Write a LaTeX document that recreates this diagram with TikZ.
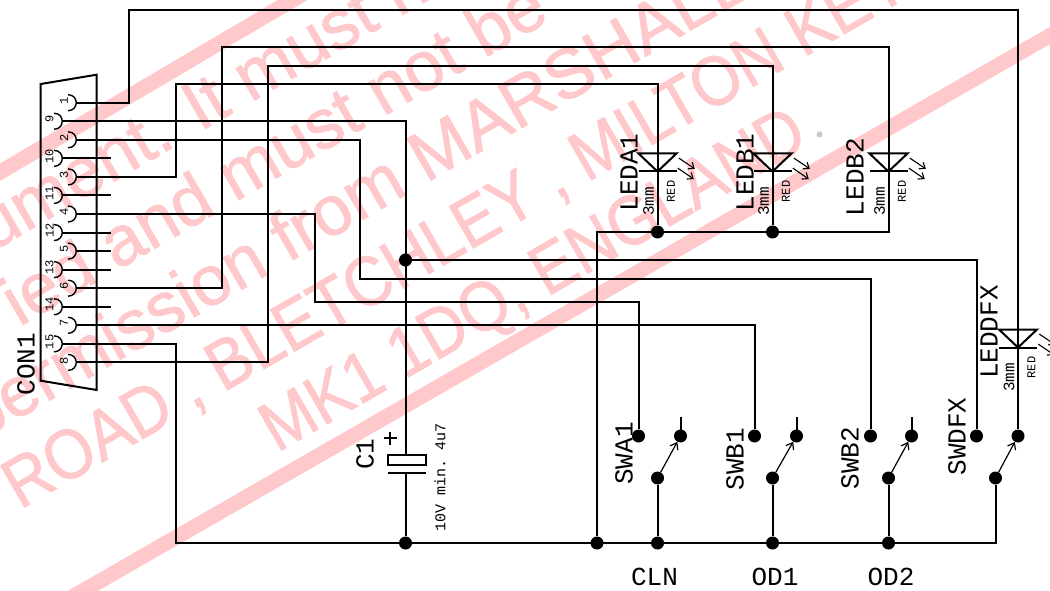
\documentclass[tikz,border=0pt]{standalone}
\usepackage{fontspec}
\setmainfont{Liberation Sans}
\setmonofont{Liberation Mono}
\newfontfamily\stampfont[FakeBold=1.2]{Liberation Sans}
\newfontfamily\stampcaps[FakeStretch=0.9,FakeBold=1.2]{Liberation Sans}
\usetikzlibrary{arrows.meta,positioning}
\definecolor{wmPink}{RGB}{255,200,203}
\definecolor{wmGray}{RGB}{200,200,200}
\tikzset{
    wire/.style={line width=2pt, color=black},
    part/.style={line width=1.4pt, color=black},
    arm/.style={line width=1.2pt, color=black, -{Straight Barb[length=6pt,width=9pt]}},
    glow/.style={line width=1.1pt, color=black, -{Straight Barb[length=5pt,width=8pt]}},
    junction/.style={circle, fill=black, inner sep=0pt, minimum size=13pt},
    tag/.style={font=\ttfamily\fontsize{26}{26}\selectfont, rotate=90, inner sep=0pt},
    title/.style={font=\ttfamily\fontsize{26}{26}\selectfont, inner sep=0pt},
    pinnum/.style={font=\ttfamily\fontsize{12}{12}\selectfont, rotate=90, inner sep=0pt},
    note/.style={font=\ttfamily\fontsize{16}{16}\selectfont, rotate=90, inner sep=0pt},
    colnote/.style={font=\ttfamily\fontsize{12}{12}\selectfont, rotate=90, inner sep=0pt},
    band/.style={line width=15pt, color=wmPink},
    stamp/.style={font=\stampfont\fontsize{70}{70}\selectfont, color=wmPink, rotate=30, anchor=base west, inner sep=0pt}
}
\begin{document}
\begin{tikzpicture}[x=1pt,y=-1pt]
  \useasboundingbox (0,0) rectangle (1050,591);
  \clip (0,0) rectangle (1050,591);

  % watermark
  \coordinate (bandAa) at (-20,184);
  \coordinate (bandAb) at (330,-22);
  \coordinate (bandBa) at (60,604);
  \coordinate (bandBb) at (1070,24);
  \draw[band] (bandAa) -- (bandAb);
  \draw[band] (bandBa) -- (bandBb);
  \node[stamp] (stampA) at (-8,252) {ument. It must n};
  \node[stamp] (stampB) at (19,327) {ied and must not be};
  \node[stamp] (stampC) at (-22,442) {permission from MARSHALL};
  \node[stamp] (stampD) at (20,510) {\stampcaps ROAD , BLETCHLEY , MILTON KEY};
  \node[stamp] (stampE) at (277,453) {\stampcaps MK1 1DQ, ENGLAND};
  \fill[wmGray] (819.5,134.5) circle (3);

  % connector shell
  \draw[wire] (40.7,84) -- (96.7,74.7) -- (96.7,390) -- (40.7,380.7) -- cycle;
  \node[tag] (con) at (26,364) {CON1};

  % pins of the front row
  \foreach \n/\k in {1/0,2/2,3/4,4/6,5/8,6/10,7/12,8/14} {
    \coordinate (pin\n) at (76.5,{102.7+18.55*\k});
    \node[pinnum] (num\n) at (64,{100.7+18.55*\k}) {\n};
    \draw[part] (68,{94.7+18.55*\k}) .. controls (79,{94.7+18.55*\k}) and (79,{110.7+18.55*\k}) .. (68,{110.7+18.55*\k});
  }
  % pins of the back row
  \foreach \n/\k in {9/1,10/3,11/5,12/7,13/9,14/11,15/13} {
    \coordinate (pin\n) at (62.5,{102.7+18.55*\k});
    \node[pinnum] (num\n) at (49.5,{100.7+18.55*\k}) {\n};
    \draw[part] (54,{94.7+18.55*\k}) .. controls (65,{94.7+18.55*\k}) and (65,{110.7+18.55*\k}) .. (54,{110.7+18.55*\k});
  }
  % unused pins
  \foreach \n in {10,11,12,5,13,14} {
    \coordinate (stub\n) at (110.7,0);
    \draw[wire] (pin\n) -- (stub\n |- pin\n);
  }

  % leds
  \foreach \name/\x/\y in {ledA/657.5/171.5,ledB/772.5/171.5,ledC/888.5/171.5,ledD/1018/347.5} {
    \coordinate (\name) at (\x,\y);
    \draw[wire] (\x-19,\y-18) -- (\x+19,\y-18) -- (\name) -- cycle;
    \draw[wire] (\x-19,\y) -- (\x+19,\y);
    \draw[glow] (\x+21.3,\y-13.4) -- (\x+37.3,\y-2.7);
    \draw[glow] (\x+20.3,\y-3.4) -- (\x+36.3,\y+7.6);
    \node[note] (\name size) at (\x-9,\y+30) {3mm};
    \node[colnote] (\name col) at (\x+13.5,\y+20) {RED};
  }
  \node[tag] (ledAname) at (629,172.5) {LEDA1};
  \node[tag] (ledBname) at (745,172.5) {LEDB1};
  \node[tag] (ledCname) at (855,177) {LEDB2};
  \node[tag] (ledDname) at (989,332) {LEDDFX};

  % switches
  \foreach \name/\xa/\xb/\xc in {swA/638.5/657.5/680.5,swB/754.5/772.5/796.5,swC/870.5/888.5/911.5,swD/976.5/995.5/1018} {
    \node[junction] (\name a) at (\xa,436) {};
    \node[junction] (\name b) at (\xc,436) {};
    \node[junction] (\name c) at (\xb,478) {};
    \draw[arm] (\name c) -- (\name b);
  }
  \foreach \name in {swA,swB,swC} {
    \draw[wire] (\name b.center) -- ++(0,-19);
  }
  \node[tag] (swAname) at (624,453.5) {SWA1};
  \node[tag] (swBname) at (735,459) {SWB1};
  \node[tag] (swCname) at (850,458) {SWB2};
  \node[tag] (swDname) at (957,436.5) {SWDFX};
  \node[title] (cln) at (654.5,577) {CLN};
  \node[title] (odA) at (775,577) {OD1};
  \node[title] (odB) at (891,577) {OD2};

  % junctions
  \node[junction] (jLedA) at (657.5,232) {};
  \node[junction] (jLedB) at (772.5,232) {};
  \node[junction] (jCap) at (405.5,260) {};
  \node[junction] (jGndA) at (405.5,543) {};
  \node[junction] (jGndB) at (597,543) {};
  \node[junction] (jGndC) at (657.5,543) {};
  \node[junction] (jGndD) at (772.5,543) {};
  \node[junction] (jGndE) at (888.5,543) {};

  % capacitor
  \draw[wire] (387.7,454.5) rectangle (425.7,464.5);
  \draw[wire] (387.7,472.5) -- (425.7,472.5);
  \coordinate (capTop) at (405.5,454.5);
  \coordinate (capBot) at (405.5,472.5);
  \draw[part] (383.5,438) -- (396.5,438);
  \draw[part] (390,431.5) -- (390,444.5);
  \node[tag] (cap) at (365,454) {C1};
  \node[note, font=\ttfamily\fontsize{15}{15}\selectfont] (capVal) at (440,477) {10V min. 4u7};

  % wiring from the connector
  \draw[wire] (pin1) -| (129,10.5) -| (ledD);
  \draw[wire] (pin9) -| (capTop);
  \draw[wire] (capBot) -- (jGndA);
  \draw[wire] (pin2) -| (359.5,278.5) -| (swCa);
  \draw[wire] (pin3) -| (175.5,84.5) -| (ledA);
  \draw[wire] (pin4) -| (314.5,301.5) -| (swAa);
  \draw[wire] (pin6) -| (221.5,47.5) -| (ledC);
  \draw[wire] (pin7) -| (swBa);
  \draw[wire] (pin8) -| (268,66.5) -| (ledB);
  \draw[wire] (jCap) -| (swDa);
  \draw[wire] (pin15) -| (175.5,543) -| (swDc);

  % common rail and returns
  \draw[wire] (jGndB) |- (jLedA);
  \draw[wire] (jLedA) -- (jLedB);
  \draw[wire] (jLedB) -| (ledC);
  \draw[wire] (ledA) -- (jLedA);
  \draw[wire] (ledB) -- (jLedB);
  \draw[wire] (ledD) -- (swDb);
  \draw[wire] (jGndA) -- (jGndB);
  \draw[wire] (swAc) -- (jGndC);
  \draw[wire] (swBc) -- (jGndD);
  \draw[wire] (swCc) -- (jGndE);
\end{tikzpicture}
\end{document}
